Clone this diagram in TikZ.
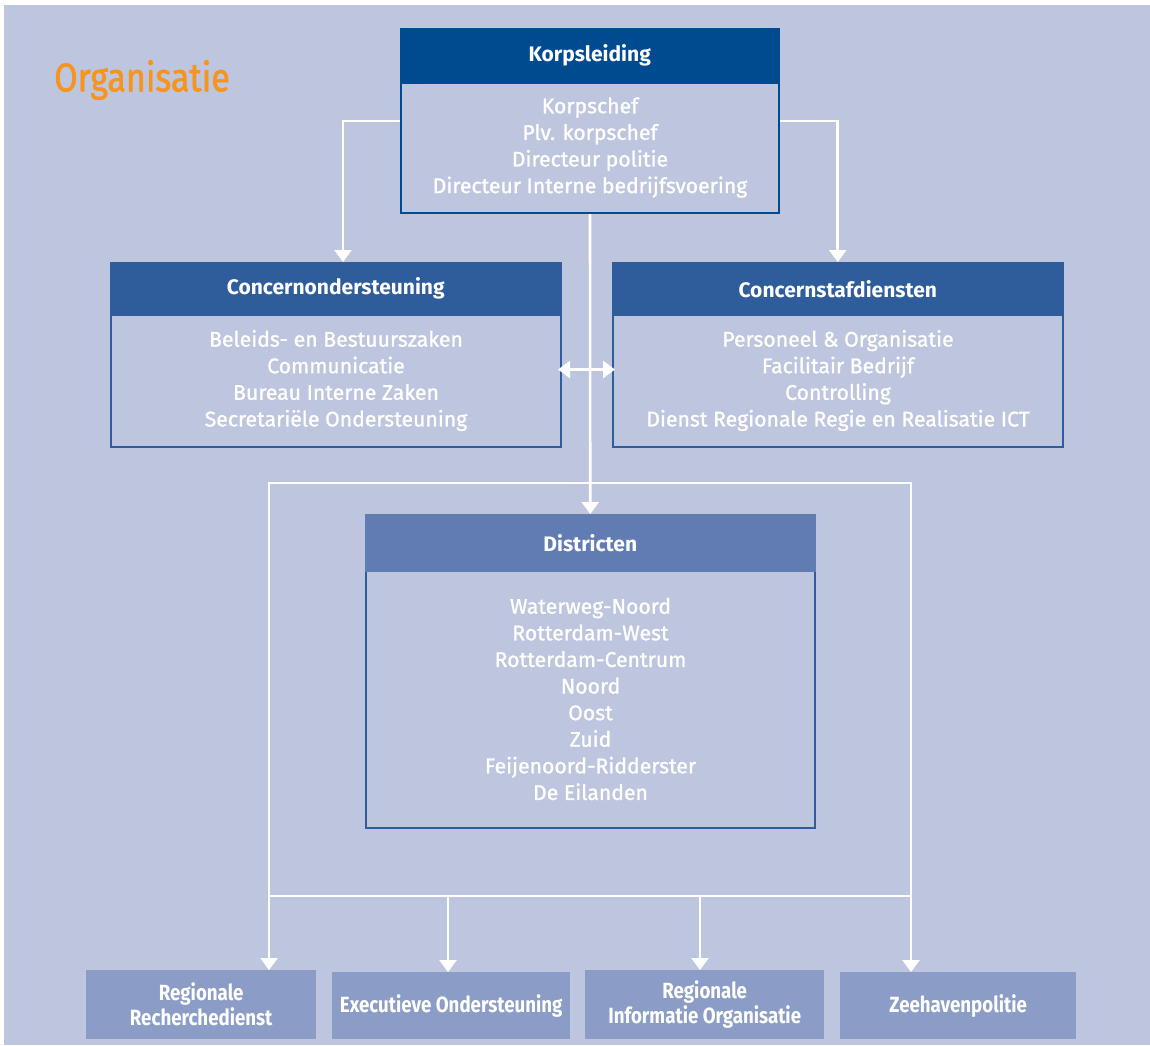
\documentclass[tikz,border=0pt]{standalone}
\usepackage{fontspec}
\setmainfont{Fira Sans}[UprightFeatures={FakeBold=1.2}]
\newfontfamily\condfont{Fira Sans}[FakeStretch=0.85, UprightFeatures={FakeBold=1.4}]
\usetikzlibrary{arrows.meta,calc}
\definecolor{bgc}{HTML}{BEC6DF}
\definecolor{kpblue}{HTML}{004A8F}
\definecolor{coblue}{HTML}{2F5C9A}
\definecolor{diblue}{HTML}{617CB2}
\definecolor{botblue}{HTML}{8B9DC6}
\definecolor{orng}{HTML}{F7941D}
\tikzset{
  hdr/.style={rectangle, anchor=north west, draw=#1, fill=#1, line width=1.5pt, text=white, inner sep=0pt,
    font=\bfseries\fontsize{21}{24}\selectfont},
  bodybox/.style={rectangle, anchor=north west, draw=#1, fill=bgc, line width=2pt, text=white, inner sep=0pt,
    align=center, font=\fontsize{21.2}{26.6}\selectfont},
  botbox/.style={rectangle, anchor=north west, fill=botblue, text=white, inner sep=0pt, align=center,
    font=\condfont\bfseries\fontsize{22}{25}\selectfont},
  conn/.style={draw=white, line width=2.6pt, -{Triangle[width=17pt,length=12pt]}},
  wline/.style={draw=white, line width=2.6pt},
}
\begin{document}
\begin{tikzpicture}[x=1pt,y=-1pt]
\useasboundingbox (0,0) rectangle (1150,1045);
\fill[white] (0,0) rectangle (1150,1045);
\fill[bgc] (4,5) rectangle (1150,1045);

\node[anchor=west, text=orng, inner sep=0pt, font=\condfont\fontsize{40}{44}\selectfont] (title) at (54,80) {Organisatie};

% Korpsleiding
\node[bodybox=kpblue, minimum width=378pt, minimum height=131pt] (kb) at (400,81)
  {Korpschef\\Plv. korpschef\\Directeur politie\\Directeur Interne bedrijfsvoering};
\node[hdr=kpblue, minimum width=378pt, minimum height=54pt] (kh) at (400,28) {Korpsleiding};

% Concernondersteuning
\node[bodybox=coblue, minimum width=450pt, minimum height=133pt] (cb1) at (110,313)
  {Beleids- en Bestuurszaken\\Communicatie\\Bureau Interne Zaken\\Secretari\"ele Ondersteuning};
\node[hdr=coblue, minimum width=450pt, minimum height=52pt] (ch1) at (110,262) {Concernondersteuning};

% Concernstafdiensten
\node[bodybox=coblue, minimum width=450pt, minimum height=133pt] (cb2) at (612,313)
  {Personeel \& Organisatie\\Facilitair Bedrijf\\Controlling\\Dienst Regionale Regie en Realisatie ICT};
\node[hdr=coblue, minimum width=450pt, minimum height=52pt] (ch2) at (612,262) {Concernstafdiensten};

% Districten
\node[bodybox=coblue, minimum width=449pt, minimum height=258pt] (db) at (365,569)
  {Waterweg-Noord\\Rotterdam-West\\Rotterdam-Centrum\\Noord\\Oost\\Zuid\\Feijenoord-Ridderster\\De Eilanden};
\node[hdr=diblue, minimum width=449pt, minimum height=56pt] (dh) at (365,514) {Districten};

% bottom boxes
\node[botbox, minimum width=230pt, minimum height=69pt] (b1) at (86,970) {Regionale\\Recherchedienst};
\node[botbox, minimum width=238pt, minimum height=67pt] (b2) at (332,972) {Executieve Ondersteuning};
\node[botbox, minimum width=239pt, minimum height=69pt] (b3) at (585,970) {Regionale\\Informatie Organisatie};
\node[botbox, minimum width=236pt, minimum height=67pt] (b4) at (840,972) {Zeehavenpolitie};

% connectors
\draw[conn] ($(kb.north west)+(0,40)$) -| ($(ch1.north west)+(233,0)$);
\draw[conn] ($(kb.north east)+(0,40)$) -| (ch2.north);
\draw[conn] (kb.south) -- (dh.north);
\draw[wline, {Triangle[width=17pt,length=12pt]}-{Triangle[width=17pt,length=12pt]}]
  ($(cb1.east)+(-4,-11)$) -- ($(cb2.west)+(3,-11)$);

\coordinate (ftl) at (269,483);
\coordinate (ftr) at (911,483);
\coordinate (fbl) at (269,896);
\coordinate (fbr) at (911,896);
\coordinate (j2) at (448,896);
\coordinate (j3) at (700,896);
\draw[wline] ([xshift=-1.3pt]ftl) -- ([xshift=1.3pt]ftr);
\draw[wline] (fbl) -- (fbr);
\draw[conn] (ftl) -- (ftl |- b1.north);
\draw[conn] (ftr) -- (ftr |- b4.north);
\draw[conn] (j2) -- (j2 |- b2.north);
\draw[conn] (j3) -- (j3 |- b3.north);
\end{tikzpicture}
\end{document}
